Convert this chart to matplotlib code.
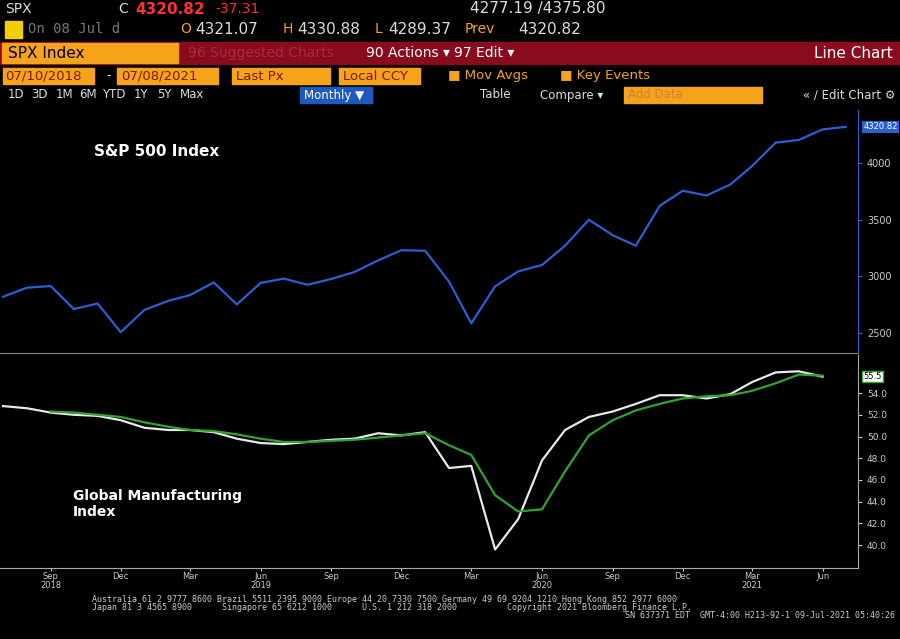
import matplotlib
matplotlib.use("Agg")
import matplotlib.pyplot as plt
import matplotlib.dates as mdates
from matplotlib.patches import Rectangle
import pandas as pd

spx_months = pd.date_range("2018-07-01", "2021-07-01", freq="MS")
spx_values = [2820, 2900, 2914, 2711, 2760, 2507, 2704, 2784, 2834, 2946, 2752, 2942,
              2980, 2926, 2977, 3038, 3141, 3231, 3226, 2954, 2585, 2912, 3044, 3100,
              3271, 3500, 3363, 3270, 3622, 3756, 3714, 3811, 3973, 4181, 4204, 4298, 4320]
pmi_months = pd.date_range("2018-07-01", "2021-06-01", freq="MS")
pmi_white = [52.8, 52.6, 52.2, 52.0, 51.9, 51.5, 50.8, 50.6, 50.6, 50.4, 49.8, 49.4,
             49.3, 49.5, 49.7, 49.8, 50.3, 50.1, 50.4, 47.1, 47.3, 39.6, 42.4, 47.8,
             50.6, 51.8, 52.3, 53.0, 53.8, 53.8, 53.5, 53.9, 55.0, 55.9, 56.0, 55.5]
avg_months = pd.date_range("2018-09-01", "2021-06-01", freq="MS")
pmi_green = [52.3, 52.2, 52.0, 51.8, 51.3, 50.9, 50.6, 50.5, 50.2, 49.8, 49.5, 49.5,
             49.6, 49.7, 49.9, 50.1, 50.3, 49.2, 48.3, 44.6, 43.1, 43.3, 46.8, 50.1,
             51.5, 52.4, 53.0, 53.5, 53.7, 53.8, 54.2, 54.9, 55.7, 55.6]
spx_ticks = [2500, 3000, 3500, 4000]
pmi_ticks = [40.0, 42.0, 44.0, 46.0, 48.0, 50.0, 52.0, 54.0]

W, H = 900, 639
fig = plt.figure(figsize=(9, 6.39), dpi=100, facecolor="black")

def fx(x): return x / W
def fy(y): return 1 - y / H

def rect(x0, y0, x1, y1, color):
    fig.patches.append(Rectangle((fx(x0), fy(y1)), fx(x1 - x0), fy(y0) - fy(y1),
                                 transform=fig.transFigure, color=color, zorder=0))

def txt(x, y, s, color="white", size=10, **kw):
    fig.text(fx(x), fy(y), s, color=color, fontsize=size, va="center", ha=kw.pop("ha", "left"), **kw)

orange = "#f5a31a"
# header rows
txt(5, 9, "SPX", color="#dddddd", size=10)
txt(118, 9, "C", color="#dddddd", size=10)
txt(135, 9, "4320.82", color="#ff3030", size=11, fontweight="bold")
txt(215, 9, "-37.31", color="#ff3030", size=10)
txt(470, 9, "4277.19 /4375.80", color="#dddddd", size=11)
rect(5, 21, 22, 38, "#f2d000")
txt(28, 29, "On 08 Jul d", color="#777777", size=10, family="DejaVu Sans Mono")
txt(180, 29, "O", color=orange, size=10)
txt(195, 29, "4321.07", color="#dddddd", size=11)
txt(283, 29, "H", color=orange, size=10)
txt(297, 29, "4330.88", color="#dddddd", size=11)
txt(375, 29, "L", color=orange, size=10)
txt(388, 29, "4289.37", color="#dddddd", size=11)
txt(465, 29, "Prev", color=orange, size=10)
txt(518, 29, "4320.82", color="#dddddd", size=11)

rect(0, 42, 900, 64, "#8a0a1e")
rect(2, 43, 178, 63, orange)
txt(8, 53, "SPX Index", color="black", size=11)
txt(188, 53, "96 Suggested Charts", color="#a0303a", size=10)
txt(366, 53, "90 Actions \u25be", color="white", size=10)
txt(454, 53, "97 Edit \u25be", color="white", size=10)
txt(893, 53, "Line Chart", color="white", size=11, ha="right")

rect(3, 68, 94, 84, orange); txt(5, 76, "07/10/2018", color="#7a1a00", size=9.5)
rect(117, 68, 218, 84, orange); txt(121, 76, "07/08/2021", color="#7a1a00", size=9.5)
txt(106, 76, "-", color="white", size=9)
rect(232, 68, 330, 84, orange); txt(236, 76, "Last Px", color="#7a1a00", size=9.5)
rect(339, 68, 420, 84, orange); txt(343, 76, "Local CCY", color="#7a1a00", size=9.5)
txt(448, 76, "\u25a0 Mov Avgs", color=orange, size=9.5)
txt(560, 76, "\u25a0 Key Events", color=orange, size=9.5)

for x, s in [(8, "1D"), (31, "3D"), (56, "1M"), (79, "6M"), (102, "YTD"), (134, "1Y"),
             (157, "5Y"), (180, "Max")]:
    txt(x, 95, s, color="#dddddd", size=8.5)
rect(300, 87, 372, 103, "#1d5ac0"); txt(304, 95, "Monthly \u25bc", color="white", size=8.5)
txt(480, 95, "Table", color="#dddddd", size=8.5)
txt(540, 95, "Compare \u25be", color="#dddddd", size=8.5)
rect(624, 87, 762, 103, orange); txt(628, 95, "Add Data", color="#d08040", size=8.5)
txt(895, 95, "\u00ab \u2215 Edit Chart \u2699", color="#dddddd", size=8.5, ha="right")

xmin, xmax = pd.Timestamp("2018-06-27"), pd.Timestamp("2021-07-17")

ax1 = fig.add_axes([0, fy(353), fx(858), fy(110) - fy(353)], facecolor="black")
ax1.plot(spx_months, spx_values, color="#2a5fd6", lw=1.6)
ax1.set_xlim(xmin, xmax); ax1.set_ylim(2323, 4469)
ax1.yaxis.tick_right()
ax1.set_yticks(spx_ticks)
ax1.set_yticklabels([str(v) for v in spx_ticks], color="#cccccc", fontsize=7)
ax1.tick_params(axis="y", color="#2a5fd6", length=3)
ax1.set_xticks([])
for s in ax1.spines.values(): s.set_visible(False)
ax1.spines["right"].set_visible(True); ax1.spines["right"].set_color("#2a5fd6")
ax1.spines["bottom"].set_visible(True); ax1.spines["bottom"].set_color("#888888")
ax1.text(0.11, 0.81, "S&P 500 Index", transform=ax1.transAxes, color="white",
         fontsize=11, fontweight="bold")
ax1.annotate("4320.82", xy=(1.0, 4320), xycoords=("axes fraction", "data"), xytext=(4, 0),
             textcoords="offset points", va="center", fontsize=6, color="white",
             bbox=dict(boxstyle="square,pad=0.15", fc="#2a5fd6", ec="none"))

ax2 = fig.add_axes([0, fy(568), fx(858), fy(355) - fy(568)], facecolor="black")
ax2.plot(pmi_months, pmi_white, color="#e8e8e8", lw=1.6)
ax2.plot(avg_months, pmi_green, color="#2fa52f", lw=1.6)
ax2.set_xlim(xmin, xmax); ax2.set_ylim(37.9, 57.5)
ax2.yaxis.tick_right()
ax2.set_yticks(pmi_ticks)
ax2.set_yticklabels([f"{v:.1f}" for v in pmi_ticks], color="#cccccc", fontsize=6.5)
ax2.tick_params(axis="y", color="#cccccc", length=3)
for s in ax2.spines.values(): s.set_visible(False)
ax2.spines["right"].set_visible(True); ax2.spines["right"].set_color("#aaaaaa")
ax2.spines["bottom"].set_visible(True); ax2.spines["bottom"].set_color("#aaaaaa")
ax2.annotate("55.5", xy=(1.0, 55.5), xycoords=("axes fraction", "data"), xytext=(4, 0),
             textcoords="offset points", va="center", fontsize=6, color="black",
             bbox=dict(boxstyle="square,pad=0.15", fc="white", ec="#2fa52f"))
ax2.text(0.085, 0.30, "Global Manufacturing\nIndex", transform=ax2.transAxes,
         color="white", fontsize=10, fontweight="bold", va="center")
ax2.xaxis.set_major_locator(mdates.MonthLocator(bymonth=[3, 6, 9, 12]))
ax2.xaxis.set_major_formatter(mdates.DateFormatter("%b"))
ax2.tick_params(axis="x", colors="#cccccc", labelsize=6, length=2, pad=1)
for d, yr in [("2018-09-01", "2018"), ("2019-06-01", "2019"), ("2020-06-01", "2020"), ("2021-03-01", "2021")]:
    ax2.text(mdates.date2num(pd.Timestamp(d)), -0.062, yr, transform=ax2.get_xaxis_transform(),
             color="#cccccc", fontsize=6, ha="center", va="top")

mono = dict(family="DejaVu Sans Mono", size=6.0, color="#cccccc")
txt(92, 599, "Australia 61 2 9777 8600 Brazil 5511 2395 9000 Europe 44 20 7330 7500 Germany 49 69 9204 1210 Hong Kong 852 2977 6000", **mono)
txt(92, 607, "Japan 81 3 4565 8900      Singapore 65 6212 1000      U.S. 1 212 318 2000          Copyright 2021 Bloomberg Finance L.P.", **mono)
txt(895, 615, "SN 637371 EDT  GMT-4:00 H213-92-1 09-Jul-2021 05:40:26", ha="right", **mono)

fig.savefig("out.png", dpi=100, facecolor="black")
